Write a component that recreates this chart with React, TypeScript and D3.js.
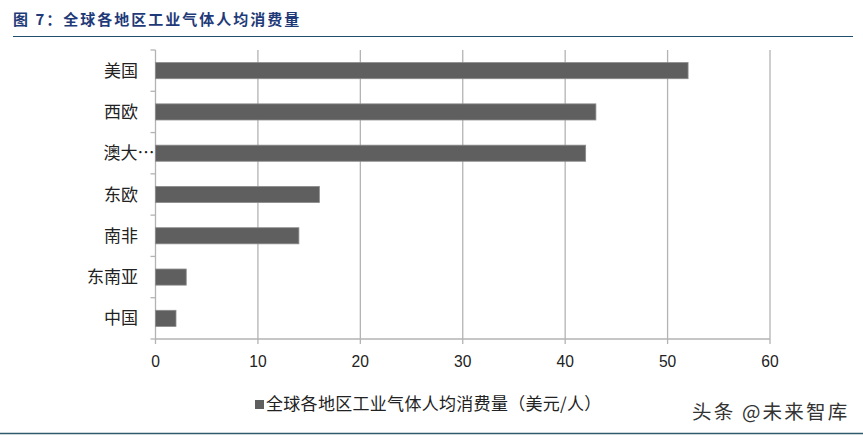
import React from 'react';
import * as d3 from 'd3';

const categories = ['美国', '西欧', '澳大…', '东欧', '南非', '东南亚', '中国'];
const values = [52, 43, 42, 16, 14, 3, 2];
const xTicks = [0, 10, 20, 30, 40, 50, 60];
const title = '图 7：全球各地区工业气体人均消费量';
const legendLabel = '全球各地区工业气体人均消费量（美元/人）';
const watermark = '头条 @未来智库';

export default function App() {
  const W = 863, H = 436;
  const left = 155.5, right = 770, top = 50, bottom = 339;
  const x = d3.scaleLinear().domain([0, 60]).range([left, right]);
  const y = d3.scaleBand<string>().domain(categories).range([top, bottom]).paddingInner(0.61).paddingOuter(0.305);
  const band = d3.scaleBand<string>().domain(categories).range([top, bottom]);
  const font = '"Liberation Sans", Arial, "Noto Sans CJK SC", sans-serif';
  const cjk = '"Noto Sans CJK SC", sans-serif';
  return (
    <svg width={W} height={H} style={{ position: 'absolute', left: 0, top: 0, background: '#fff' }} fontFamily={font}>
      <text x={13} y={25} fontSize={15} fontWeight="bold" fill="#1f3a78" fontFamily={cjk} letterSpacing={2}>{title}</text>
      <line x1={13} x2={853} y1={36.5} y2={36.5} stroke="#1f4e6e" strokeWidth={1.2} />
      {xTicks.map(t => (
        <g key={t}>
          <line x1={x(t)} x2={x(t)} y1={top} y2={bottom + 5} stroke="#b3b3b3" strokeWidth={1.3} />
          <text x={x(t)} y={367} fontSize={17} textAnchor="middle" fill="#222" transform={`translate(${x(t)},0) scale(0.92,1) translate(${-x(t)},0)`}>{t}</text>
        </g>
      ))}
      <line x1={left} x2={right} y1={bottom} y2={bottom} stroke="#b3b3b3" strokeWidth={1.3} />
      {categories.map((c, i) => (
        <line key={'t' + i} x1={left - 5} x2={left} y1={band(c)!} y2={band(c)!} stroke="#b3b3b3" strokeWidth={1.3} />
      ))}
      <line x1={left - 5} x2={left} y1={bottom} y2={bottom} stroke="#b3b3b3" strokeWidth={1.3} />
      {categories.map((c, i) => (
        <rect key={c} x={x(0)} y={y(c)!} width={x(values[i]) - x(0)} height={y.bandwidth()} fill="#5f5f5f" stroke="#8a8a8a" strokeWidth={0.8} />
      ))}
      {categories.map(c => (
        <text key={'l' + c} x={c === '澳大…' ? left - 1 : 138} y={y(c)! + y.bandwidth() / 2} dy="0.36em" fontSize={17} textAnchor="end" fill="#222" fontFamily={cjk}>{c}</text>
      ))}
      <rect x={255} y={400} width={9} height={9} fill="#5f5f5f" />
      <text x={266} y={410} fontSize={17} fill="#222" fontFamily={cjk} letterSpacing={0.3}>{legendLabel}</text>
      <text x={692} y={419} fontSize={19.5} fill="#333" fontFamily={cjk} letterSpacing={2.2}>{watermark}</text>
      <line x1={0} x2={W} y1={433.5} y2={433.5} stroke="#2e5c6e" strokeWidth={1.5} />
    </svg>
  );
}
